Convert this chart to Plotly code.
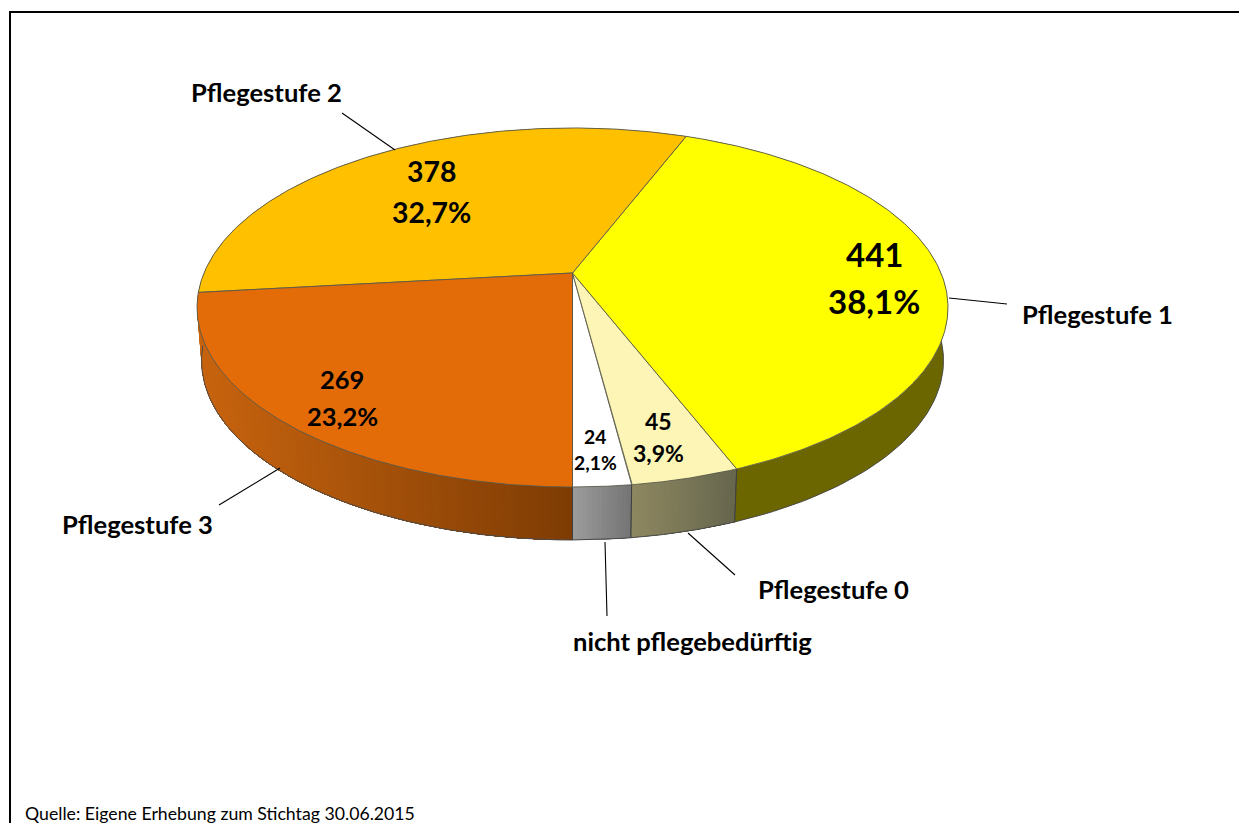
import numpy as np
import plotly.graph_objects as go

# --- data -------------------------------------------------------------
categories = ["nicht pflegebedürftig", "Pflegestufe 0", "Pflegestufe 1", "Pflegestufe 2", "Pflegestufe 3"]
values = [24, 45, 441, 378, 269]
source_note = "Quelle: Eigene Erhebung zum Stichtag 30.06.2015"

# --- styles -----------------------------------------------------------
top_colors = ["#FFFFFF", "#FDF5B5", "#FFFF00", "#FFC000", "#E36C09"]
side_left = ["#9C9C9C", "#8E8860", "#6B6600", "#7F6000", "#C8640F"]
side_right = ["#747474", "#66664E", "#6B6600", "#7F6000", "#7E3C04"]
FONT = "Lato"
CX, CY = 572.5, 273.0      # apex of the pie on the page
A, B, K = 368.5, 172.9, 0.192   # perspective of the disc
DEPTH, NARROW = 53.0, 0.988

label_style = {
    "nicht pflegebedürftig": dict(x=692, y=641, anchor="center"),
    "Pflegestufe 0": dict(x=833, y=589, anchor="center"),
    "Pflegestufe 1": dict(x=1020, y=314, anchor="left"),
    "Pflegestufe 2": dict(x=266, y=92, anchor="center"),
    "Pflegestufe 3": dict(x=137, y=524, anchor="center"),
}
value_style = {
    "nicht pflegebedürftig": (595, 436, 462, 19.3),
    "Pflegestufe 0": (658, 421, 453, 23),
    "Pflegestufe 1": (874, 254, 301, 33),
    "Pflegestufe 2": (431, 171, 212, 28.4),
    "Pflegestufe 3": (342, 379, 416, 25.5),
}
leaders = [
    ((605, 542), (607, 616)),
    ((688, 533), (735, 575)),
    ((949, 298), (1007, 304)),
    ((395, 150), (342, 113)),
    ((280, 468), (219, 505)),
]


def project(theta, r=1.0):
    """theta measured counter-clockwise (on screen) from the front of the pie."""
    u, v = r * np.sin(theta), r * np.cos(theta)
    w = 1 - K * v
    return CX + A * u / w, CY + B * v / w


def mix(c1, c2, t):
    a = [int(c1[i:i + 2], 16) for i in (1, 3, 5)]
    b = [int(c2[i:i + 2], 16) for i in (1, 3, 5)]
    return "rgb(%d,%d,%d)" % tuple(round(p + (q - p) * t) for p, q in zip(a, b))


fig = go.Figure()
edges = np.concatenate([[0], np.cumsum(values)]) / sum(values) * 2 * np.pi


def add_poly(xs, ys, fill, line, width):
    fig.add_trace(go.Scatter(x=xs, y=ys, mode="lines", fill="toself", fillcolor=fill,
                             line=dict(color=line, width=width), hoverinfo="skip", showlegend=False))


# side walls: painted from the slice start to its end, each step overpainting the
# remainder, so the gradient has no seams
for i in range(len(values)):
    a0, a1 = edges[i], edges[i + 1]
    solid = side_left[i] == side_right[i]
    n = 1 if solid else max(3, int((a1 - a0) / np.radians(0.6)))
    ticks = np.linspace(a0, a1, n + 1)
    x_start, _ = project(a0)
    x_end, _ = project(a1)
    for s in range(n):
        th = np.linspace(ticks[s], a1, max(3, int((a1 - ticks[s]) / np.radians(0.5))))
        tx, ty = project(th)
        bx = CX + (tx - CX) * NARROW
        by = ty + DEPTH
        xm = (project(ticks[s])[0] + project(ticks[s + 1])[0]) / 2
        t = float(np.clip((xm - min(x_start, x_end)) / abs(x_end - x_start), 0, 1))
        col = mix(side_left[i], side_right[i], t)
        fig.add_trace(go.Scatter(x=list(tx) + list(bx[::-1]) + [tx[0]], y=list(ty) + list(by[::-1]) + [ty[0]],
                                 mode="none", fill="toself", fillcolor=col, hoverinfo="skip", showlegend=False))
    # lower outline and the vertical joints
    th = np.linspace(a0, a1, 120)
    tx, ty = project(th)
    keep = np.cos(th) > -0.2
    fig.add_trace(go.Scatter(x=(CX + (tx - CX) * NARROW)[keep], y=(ty + DEPTH)[keep], mode="lines",
                             line=dict(color="#4A4A4A", width=1), hoverinfo="skip", showlegend=False))
    for ang in (a0, a1):
        px, py = project(ang)
        if np.cos(ang) > 0.5:
            fig.add_trace(go.Scatter(x=[px, CX + (px - CX) * NARROW], y=[py, py + DEPTH], mode="lines",
                                     line=dict(color="#404040", width=1), hoverinfo="skip", showlegend=False))

# top faces
for i in range(len(values)):
    th = np.linspace(edges[i], edges[i + 1], 200)
    tx, ty = project(th)
    xs = [CX] + list(tx) + [CX]
    ys = [CY] + list(ty) + [CY]
    add_poly(xs, ys, top_colors[i], "#5A5A4A", 0.9)

# leader lines
for (p, q) in leaders:
    fig.add_trace(go.Scatter(x=[p[0], q[0]], y=[p[1], q[1]], mode="lines",
                             line=dict(color="#000000", width=1.1), hoverinfo="skip", showlegend=False))

annotations = []
total = sum(values)
for name, val in zip(categories, values):
    s = label_style[name]
    annotations.append(dict(x=s["x"], y=s["y"], text=f"<b>{name}</b>", showarrow=False, xanchor=s["anchor"],
                            yanchor="middle", font=dict(family=FONT, size=25.6, color="#000000")))
    x, y1, y2, size = value_style[name]
    pct = f"{val / total * 100:.1f}".replace(".", ",") + "%"
    annotations.append(dict(x=x, y=y1, text=f"<b>{val}</b>", showarrow=False, yanchor="middle",
                            font=dict(family=FONT, size=size, color="#000000")))
    annotations.append(dict(x=x, y=y2, text=f"<b>{pct}</b>", showarrow=False, yanchor="middle",
                            font=dict(family=FONT, size=size, color="#000000")))
annotations.append(dict(x=23, y=813, text=source_note, showarrow=False, xanchor="left", yanchor="middle",
                        font=dict(family=FONT, size=17.7, color="#000000")))

fig.update_layout(
    width=1239, height=823, margin=dict(l=0, r=0, t=0, b=0),
    paper_bgcolor="#FFFFFF", plot_bgcolor="#FFFFFF", showlegend=False,
    xaxis=dict(range=[0, 1239], visible=False, fixedrange=True),
    yaxis=dict(range=[823, 0], visible=False, fixedrange=True),
    annotations=annotations,
    shapes=[dict(type="line", xref="x", yref="y", x0=10, y0=823, x1=10, y1=12, line=dict(color="#000", width=2)),
            dict(type="line", xref="x", yref="y", x0=9, y0=12, x1=1239, y1=12, line=dict(color="#000", width=2))],
)

fig.write_html("out.html", config={"displayModeBar": False},
               post_script="document.body.style.margin='0';document.body.style.overflow='hidden';")
